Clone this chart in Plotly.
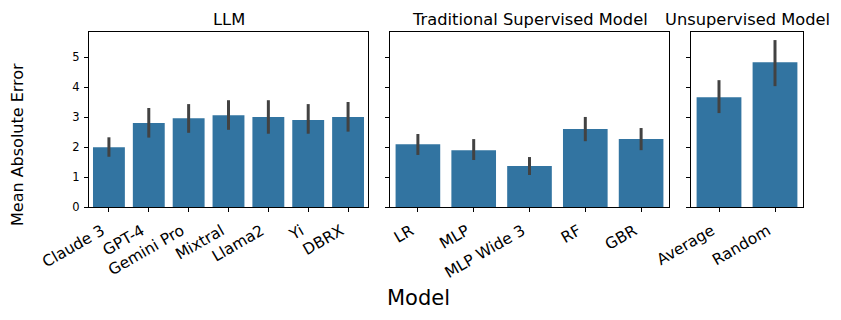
import plotly.graph_objects as go
from plotly.subplots import make_subplots

# LLM panel
llm_names = ['Claude 3', 'GPT-4', 'Gemini Pro', 'Mixtral', 'Llama2', 'Yi', 'DBRX']
llm_mae = [2.00, 2.81, 2.97, 3.07, 3.01, 2.91, 3.01]
llm_hi = [2.33, 3.31, 3.44, 3.57, 3.57, 3.44, 3.51]
llm_lo = [1.68, 2.32, 2.48, 2.58, 2.45, 2.45, 2.52]

# traditional supervised
sup_names = ['LR', 'MLP', 'MLP Wide 3', 'RF', 'GBR']
sup_mae = [2.10, 1.90, 1.37, 2.61, 2.27]
sup_hi = [2.44, 2.27, 1.67, 3.01, 2.64]
sup_lo = [1.74, 1.57, 1.07, 2.20, 1.90]

# unsupervised
uns_names = ['Average', 'Random']
uns_mae = [3.67, 4.84]
uns_hi = [4.24, 5.58]
uns_lo = [3.14, 4.04]

titles = ['LLM', 'Traditional Supervised Model', 'Unsupervised Model']
bar_color = '#3274a1'
err_color = '#424242'
font = 'DejaVu Sans'

fig = make_subplots(rows=1, cols=3, shared_yaxes=True, subplot_titles=titles,
                    column_widths=[279, 279, 112], horizontal_spacing=22/714)

groups = [(llm_names, llm_mae, llm_hi, llm_lo),
          (sup_names, sup_mae, sup_hi, sup_lo),
          (uns_names, uns_mae, uns_hi, uns_lo)]

for i, (names, mae, hi, lo) in enumerate(groups):
    fig.add_trace(go.Bar(
        x=names, y=mae, marker_color=bar_color, marker_line_width=0,
        error_y=dict(type='data', symmetric=False,
                     array=[h - m for h, m in zip(hi, mae)],
                     arrayminus=[m - l for m, l in zip(mae, lo)],
                     color=err_color, thickness=3, width=0),
        showlegend=False), row=1, col=i + 1)

# fix domains to match the picture
doms = [[0, 279/714], [301/714, 580/714], [602/714, 1]]
for i in range(3):
    fig.update_xaxes(domain=doms[i], row=1, col=i + 1)

fig.update_xaxes(showline=True, linecolor='black', linewidth=1, mirror=True,
                 ticks='outside', ticklen=4, tickcolor='black', tickangle=-30,
                 tickfont=dict(family=font, size=15.5, color='black'),
                 ticklabelshift=-7, ticklabelstandoff=4,
                 showgrid=False, automargin=False)
fig.update_yaxes(showline=True, linecolor='black', linewidth=1, mirror=True,
                 ticks='outside', ticklen=4, tickcolor='black',
                 tickfont=dict(family=font, size=11.5, color='black'),
                 ticklabelstandoff=2,
                 showgrid=False, zeroline=False, range=[0, 5.85], dtick=1,
                 automargin=False)

for ann in fig.layout.annotations:
    ann.font = dict(family=font, size=16.3, color='black')
    ann.yshift = 1

fig.add_annotation(text='Model', xref='paper', yref='paper', x=(418-89)/714, y=(207-298)/175,
                   xanchor='center', yanchor='middle',
                   showarrow=False, font=dict(family=font, size=21, color='black'))
fig.add_annotation(text='Mean Absolute Error', xref='paper', yref='paper', x=(17-89)/714,
                   y=(207-145)/175, xanchor='center', yanchor='middle', textangle=-90,
                   showarrow=False, font=dict(family=font, size=16, color='black'))

fig.update_layout(width=841, height=320, bargap=0.2,
                  margin=dict(l=89, r=38, t=32, b=113, autoexpand=False),
                  plot_bgcolor='white', paper_bgcolor='white',
                  font=dict(family=font, color='black'))

# page body has a default 8px margin, drop it so the figure sits at 0,0
fig.write_html("out.html", config={'displayModeBar': False},
               post_script="document.body.style.margin='0';")
